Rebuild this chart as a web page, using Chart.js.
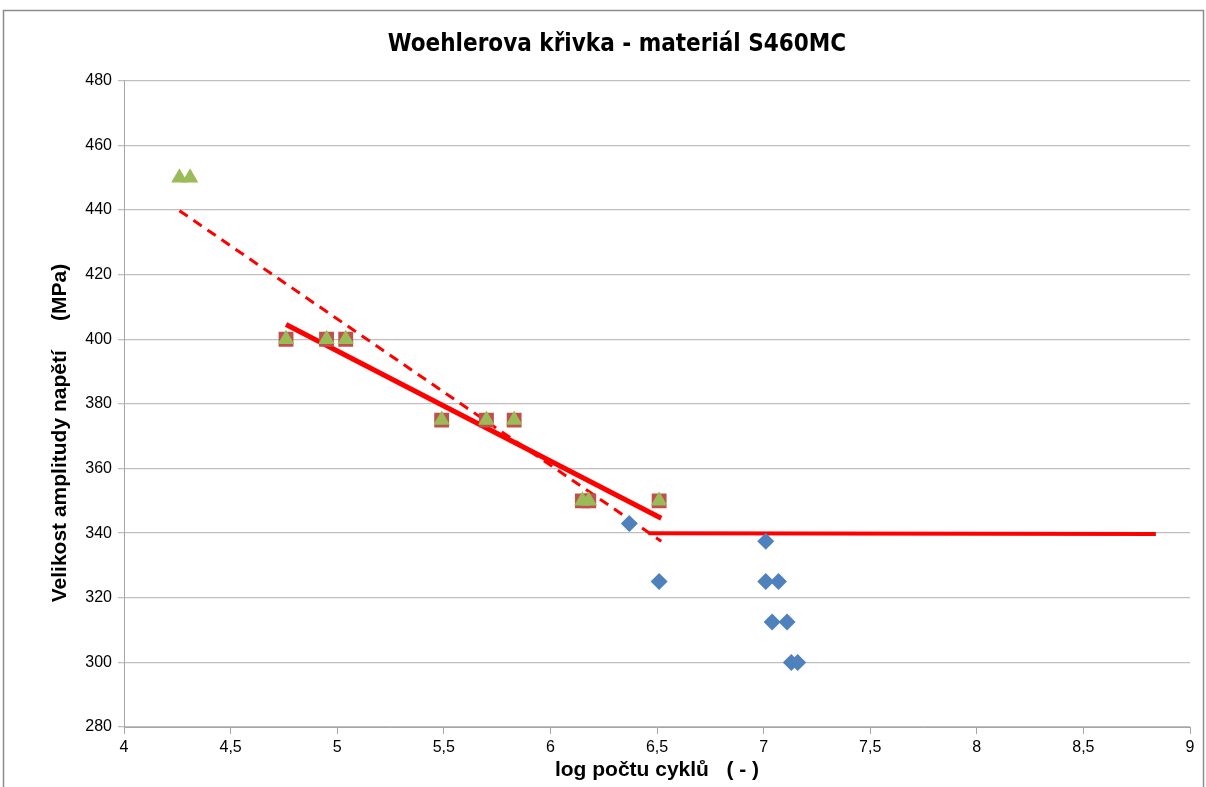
<!DOCTYPE html>
<html>
<head>
<meta charset="utf-8">
<script src="https://cdn.jsdelivr.net/npm/chart.js@4/dist/chart.umd.min.js"></script>
<style>
  html, body { margin: 0; padding: 0; background: #fff; }
  #wrap { width: 1206px; height: 787px; position: relative; }
</style>
</head>
<body>
<div id="wrap"><canvas id="chart"></canvas></div>
<script>
// measured points - failure stress vs log cycles
const squareX = [4.76, 4.95, 5.04, 5.49, 5.70, 5.83, 6.15, 6.18, 6.51];
const squareY = [400, 400, 400, 375, 375, 375, 350, 350, 350];
const triangleX = [4.26, 4.31, 4.76, 4.95, 5.04, 5.49, 5.70, 5.83, 6.15, 6.18, 6.51];
const triangleY = [450, 450, 400, 400, 400, 375, 375, 375, 350, 350, 350];
// run-outs / low-level points
const diamondX = [6.37, 6.51, 7.01, 7.01, 7.07, 7.04, 7.11, 7.13, 7.16];
const diamondY = [343, 325, 337.5, 325, 325, 312.5, 312.5, 300, 300];
// trend lines
const dashX = [4.26, 6.52];
const dashY = [439.8, 337.5];
const slopeX = [4.76, 6.52];
const slopeY = [404.6, 344.6];
const limitX = [6.46, 8.84];
const limitY = [340, 339.7];

const xTicks = [4, 4.5, 5, 5.5, 6, 6.5, 7, 7.5, 8, 8.5, 9];

const pts = (xs, ys) => xs.map((x, i) => ({ x, y: ys[i] }));

const frame = {
  id: 'frame',
  afterDraw(c) {
    const ctx = c.ctx;
    ctx.save();
    ctx.strokeStyle = '#8c8c8c';
    ctx.lineWidth = 1.5;
    ctx.strokeRect(3.5, 10.5, 1200, 800);
    ctx.restore();
  }
};

new Chart(document.getElementById('chart'), {
  type: 'scatter',
  data: {
    datasets: [
      { label: 'dash', type: 'line', data: pts(dashX, dashY), borderColor: '#ff0000', borderWidth: 3,
        borderDash: [10, 7], pointRadius: 0, fill: false, order: 5 },
      { label: 'slope', type: 'line', data: pts(slopeX, slopeY), borderColor: '#ff0000', borderWidth: 5,
        pointRadius: 0, fill: false, order: 4 },
      { label: 'limit', type: 'line', data: pts(limitX, limitY), borderColor: '#ff0000', borderWidth: 4,
        pointRadius: 0, fill: false, order: 4 },
      { label: 'squares', data: pts(squareX, squareY), pointStyle: 'rect', pointRadius: 10.5,
        backgroundColor: '#c0504d', borderWidth: 0, order: 3 },
      { label: 'triangles', data: pts(triangleX, triangleY), pointStyle: 'triangle', pointRadius: 9.5,
        backgroundColor: '#9bbb59', borderWidth: 0, order: 2 },
      { label: 'diamonds', data: pts(diamondX, diamondY), pointStyle: 'rectRot', pointRadius: 8.5,
        backgroundColor: '#4f81bd', borderWidth: 0, order: 1 }
    ]
  },
  options: {
    responsive: true,
    maintainAspectRatio: false,
    animation: false,
    layout: { padding: { left: 44, right: 16, top: 0, bottom: 0 } },
    plugins: {
      legend: { display: false },
      tooltip: { enabled: false },
      title: {
        display: true,
        text: 'Woehlerova křivka - materiál S460MC',
        color: '#000',
        font: { family: "'Liberation Sans Narrow', 'DejaVu Sans Condensed', sans-serif", size: 24, weight: 'bold' },
        padding: { top: 30, bottom: 22 }
      }
    },
    scales: {
      x: {
        type: 'linear',
        min: 4, max: 9,
        afterBuildTicks: s => { s.ticks = xTicks.map(v => ({ value: v })); },
        afterFit: s => { s.height = 60; },
        grid: { drawOnChartArea: false, color: '#a6a6a6', tickLength: 7 },
        border: { color: '#a6a6a6' },
        ticks: {
          color: '#000', padding: 4,
          font: { family: "'Liberation Sans', Arial, sans-serif", size: 16 },
          callback: v => String(v).replace('.', ',')
        },
        title: {
          display: true, text: 'log počtu cyklů   ( - )', color: '#000',
          font: { family: "'Liberation Sans', Arial, sans-serif", size: 21, weight: 'bold' },
          padding: { top: 7 }
        }
      },
      y: {
        min: 280, max: 480,
        ticks: {
          stepSize: 20, color: '#000', padding: 6,
          font: { family: "'Liberation Sans', Arial, sans-serif", size: 16 }
        },
        afterFit: s => { s.width = 80; },
        grid: { color: '#bfbfbf', tickLength: 6, lineWidth: 1.3 },
        border: { color: '#a6a6a6' },
        title: {
          display: true,
          text: 'Velikost amplitudy napětí     (MPa)\u00a0\u00a0\u00a0\u00a0\u00a0\u00a0\u00a0\u00a0\u00a0\u00a0',
          color: '#000',
          font: { family: "'Liberation Sans', Arial, sans-serif", size: 21, weight: 'bold' },
          padding: { bottom: 4 }
        }
      }
    }
  },
  plugins: [frame]
});
</script>
</body>
</html>
